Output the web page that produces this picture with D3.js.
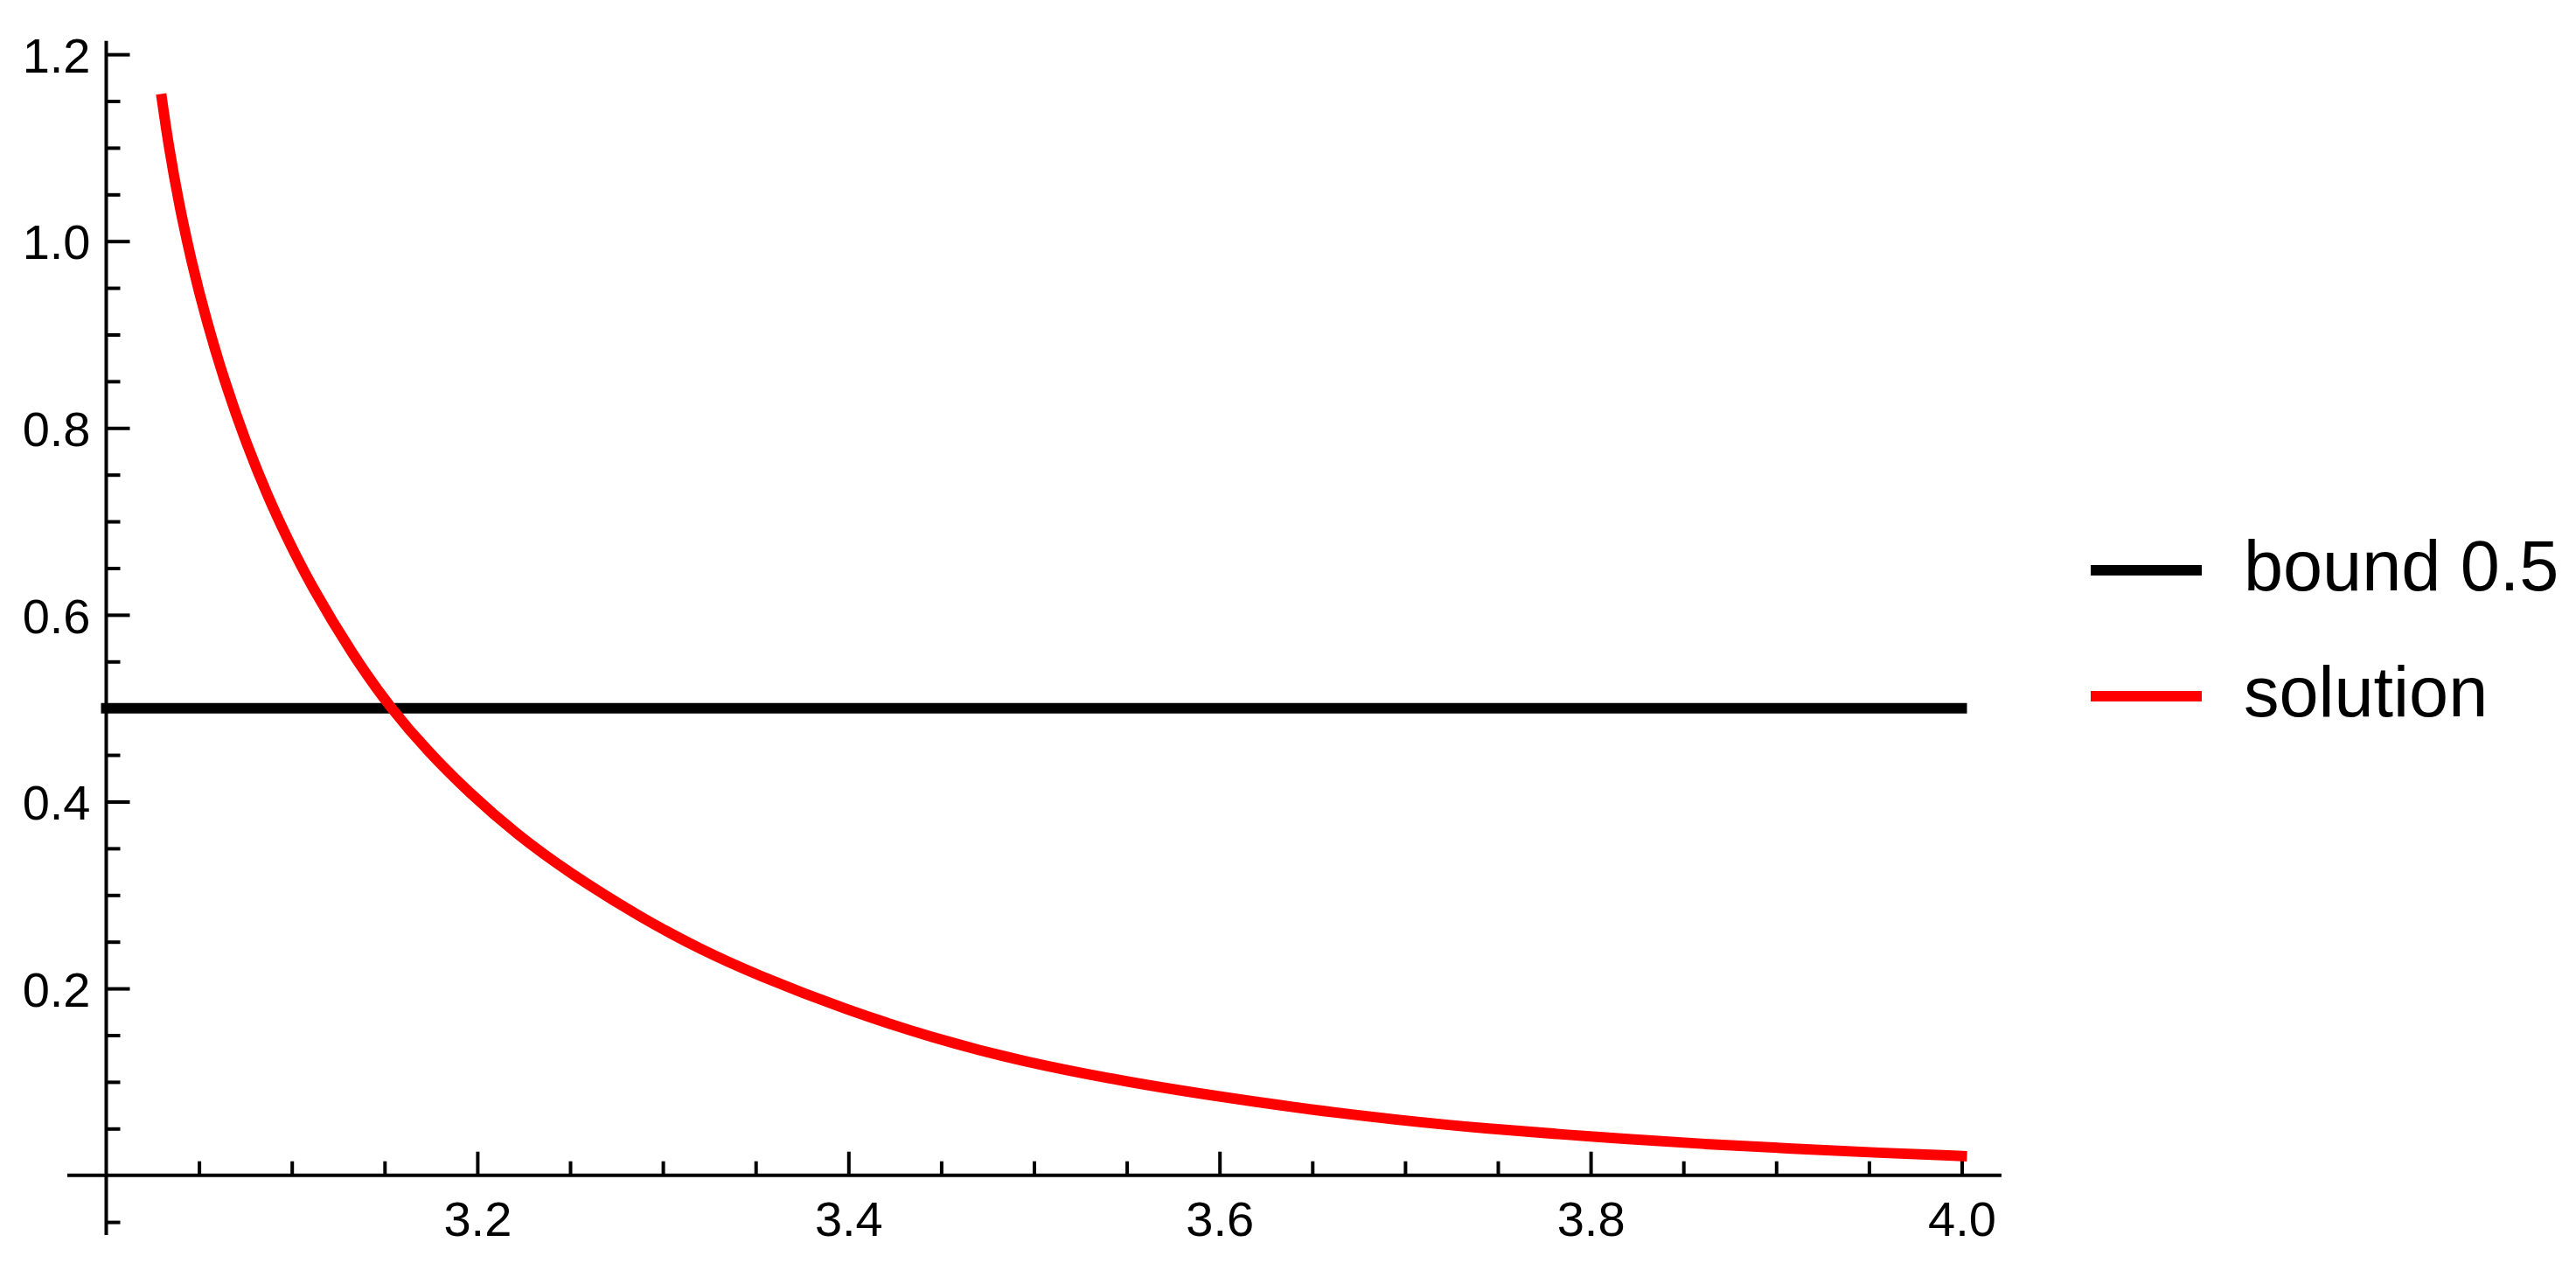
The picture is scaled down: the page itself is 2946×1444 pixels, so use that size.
<!DOCTYPE html>
<html>
<head>
<meta charset="utf-8">
<script src="https://cdn.jsdelivr.net/npm/d3@7"></script>
<style>
  html, body { margin: 0; padding: 0; background: #ffffff; }
  svg { display: block; }
  text { font-family: "Liberation Sans", Arial, sans-serif; fill: #000; }
</style>
</head>
<body>
<svg id="chart" width="2946" height="1444"></svg>
<script>
// ---- data ----
const solutionX = [3.0300, 3.0336, 3.0392, 3.0460, 3.0540, 3.0634, 3.0742, 3.0868, 3.0978, 3.1096,
                   3.1331, 3.1533, 3.1737, 3.1957, 3.2208, 3.2491, 3.2882, 3.3198, 3.3512, 3.3983,
                   3.4454, 3.4926, 3.5538, 3.6025, 3.6496, 3.6968, 3.7439, 3.7894, 3.8146, 3.8617,
                   3.9088, 3.9559, 4.0000];
const solutionY = [1.1520, 1.1021, 1.0397, 0.9772, 0.9148, 0.8524, 0.7900, 0.7275, 0.6807, 0.6339,
                   0.5559, 0.4997, 0.4529, 0.4092, 0.3655, 0.3242, 0.2757, 0.2422, 0.2139, 0.1775,
                   0.1470, 0.1221, 0.0985, 0.0835, 0.0700, 0.0590, 0.0498, 0.0431, 0.0395, 0.0333,
                   0.0285, 0.0240, 0.0206];
const boundX = [3.0, 4.0];
const boundY = [0.5, 0.5];
const seriesNames = ["bound 0.5", "solution"];
const seriesColors = ["#000000", "#ff0000"];

const xMajorTicks = [3.2, 3.4, 3.6, 3.8, 4.0];
const xMinorTicks = [3.05, 3.1, 3.15, 3.25, 3.3, 3.35, 3.45, 3.5, 3.55, 3.65, 3.7, 3.75, 3.85, 3.9, 3.95];
const yMajorTicks = [0.2, 0.4, 0.6, 0.8, 1.0, 1.2];
const yMinorTicks = [-0.05, 0.05, 0.1, 0.15, 0.25, 0.3, 0.35, 0.45, 0.5, 0.55, 0.65, 0.7, 0.75,
                     0.85, 0.9, 0.95, 1.05, 1.1, 1.15];
const xAxisExtent = [2.979, 4.0214];
const yAxisExtent = [-0.064, 1.2144];

// ---- layout ----
const svg = d3.select("#chart");
svg.append("rect").attr("width", 2946).attr("height", 1444).attr("fill", "#fff");

const x = d3.scaleLinear().domain([3.0, 4.0]).range([121.5, 2243.5]);
const y = d3.scaleLinear().domain([0, 1.2]).range([1343.7, 62.1]);
const fmt = d3.format(".1f");
const FS = 56;

// axes lines
const axisG = svg.append("g");
axisG.append("line")
  .attr("x1", x(xAxisExtent[0])).attr("x2", x(xAxisExtent[1]))
  .attr("y1", y(0)).attr("y2", y(0))
  .attr("stroke", "#000").attr("stroke-width", 4);
axisG.append("line")
  .attr("x1", x(3.0)).attr("x2", x(3.0))
  .attr("y1", y(yAxisExtent[0])).attr("y2", y(yAxisExtent[1]))
  .attr("stroke", "#000").attr("stroke-width", 4);

// x axis ticks
const xMajor = svg.append("g").attr("transform", `translate(0,${y(0)})`)
  .call(d3.axisBottom(x).tickValues(xMajorTicks).tickFormat(fmt)
        .tickSizeInner(-27).tickSizeOuter(0).tickPadding(30));
const xMinor = svg.append("g").attr("transform", `translate(0,${y(0)})`)
  .call(d3.axisBottom(x).tickValues(xMinorTicks).tickFormat("")
        .tickSizeInner(-16).tickSizeOuter(0));

// y axis ticks
const yMajor = svg.append("g").attr("transform", `translate(${x(3.0)},0)`)
  .call(d3.axisLeft(y).tickValues(yMajorTicks).tickFormat(fmt)
        .tickSizeInner(-27).tickSizeOuter(0).tickPadding(18));
const yMinor = svg.append("g").attr("transform", `translate(${x(3.0)},0)`)
  .call(d3.axisLeft(y).tickValues(yMinorTicks).tickFormat("")
        .tickSizeInner(-16).tickSizeOuter(0));

[xMajor, xMinor, yMajor, yMinor].forEach(g => {
  g.select(".domain").remove();
  g.selectAll(".tick line").attr("stroke", "#000").attr("stroke-width", 4);
  g.selectAll(".tick text")
    .attr("font-family", "'Liberation Sans', Arial, sans-serif")
    .attr("font-size", FS).attr("fill", "#000");
});
yMajor.selectAll(".tick text").attr("dy", "0.36em");

// series
const line = d3.line().x(d => x(d[0])).y(d => y(d[1]));
svg.append("path")
  .datum(d3.zip(boundX, boundY))
  .attr("d", line)
  .attr("fill", "none").attr("stroke", seriesColors[0])
  .attr("stroke-width", 12).attr("stroke-linecap", "square");

svg.append("path")
  .datum(d3.zip(solutionX, solutionY))
  .attr("d", line.curve(d3.curveBasis))
  .attr("fill", "none").attr("stroke", seriesColors[1])
  .attr("stroke-width", 12).attr("stroke-linecap", "square")
  .attr("stroke-linejoin", "round");

// legend
const legend = svg.append("g");
const legendRows = [652, 796];
seriesNames.forEach((name, i) => {
  legend.append("line")
    .attr("x1", 2391).attr("x2", 2518)
    .attr("y1", legendRows[i]).attr("y2", legendRows[i])
    .attr("stroke", seriesColors[i]).attr("stroke-width", 12);
  legend.append("text")
    .attr("x", 2566).attr("y", legendRows[i] + 23)
    .attr("font-size", 81)
    .text(name);
});
</script>
</body>
</html>
